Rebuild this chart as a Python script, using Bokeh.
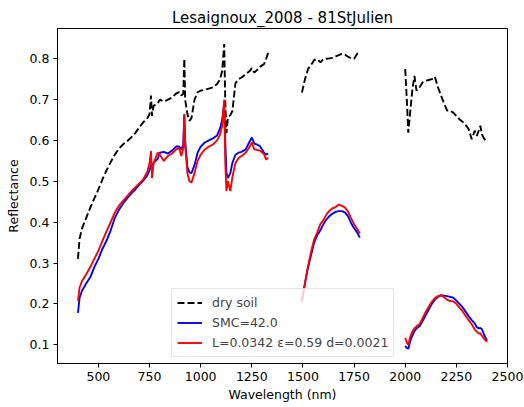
import numpy as np
from bokeh.plotting import figure
from bokeh.models import Range1d, FixedTicker
from bokeh.embed import file_html
from bokeh.resources import INLINE

# ---- data ----
wl_a = [400, 408, 420, 440, 460, 480, 500, 520, 540, 560,
        580, 600, 620, 640, 660, 680, 700, 720, 740, 750,
        757, 762, 770, 790, 800, 820, 840, 860, 880, 895,
        905, 915, 920, 924, 935, 945, 955, 970, 985, 1000,
        1020, 1040, 1060, 1080, 1095, 1105, 1115, 1120, 1126, 1133,
        1145, 1155, 1170, 1185, 1200, 1220, 1240, 1250, 1262, 1275,
        1290, 1310, 1320, 1330]
dry_a = [0.31, 0.36, 0.385, 0.41, 0.435, 0.458, 0.48, 0.505, 0.527, 0.547,
         0.565, 0.58, 0.59, 0.598, 0.607, 0.618, 0.632, 0.645, 0.655, 0.665,
         0.71, 0.66, 0.685, 0.69, 0.70, 0.695, 0.70, 0.705, 0.715, 0.718,
         0.71, 0.715, 0.80, 0.70, 0.665, 0.648, 0.655, 0.70, 0.718, 0.722,
         0.724, 0.727, 0.73, 0.738, 0.75, 0.77, 0.836, 0.70, 0.618, 0.656,
         0.662, 0.672, 0.74, 0.75, 0.754, 0.762, 0.77, 0.777, 0.766, 0.772,
         0.78, 0.787, 0.80, 0.815]
smc_a = [0.178, 0.215, 0.232, 0.25, 0.265, 0.29, 0.31, 0.335, 0.355, 0.38,
         0.41, 0.43, 0.445, 0.458, 0.47, 0.48, 0.492, 0.502, 0.515, 0.528,
         0.54, 0.538, 0.545, 0.555, 0.57, 0.572, 0.568, 0.575, 0.585, 0.585,
         0.578, 0.59, 0.664, 0.60, 0.535, 0.522, 0.52, 0.54, 0.57, 0.585,
         0.595, 0.60, 0.605, 0.612, 0.63, 0.65, 0.69, 0.60, 0.52, 0.508,
         0.52, 0.545, 0.565, 0.57, 0.572, 0.578, 0.598, 0.607, 0.592, 0.59,
         0.586, 0.57, 0.565, 0.568]
mod_a = [0.207, 0.24, 0.256, 0.272, 0.29, 0.31, 0.33, 0.355, 0.378, 0.40,
         0.423, 0.44, 0.452, 0.463, 0.475, 0.485, 0.495, 0.505, 0.525, 0.545,
         0.574, 0.508, 0.545, 0.57, 0.565, 0.55, 0.562, 0.568, 0.578, 0.582,
         0.562, 0.58, 0.664, 0.59, 0.52, 0.50, 0.497, 0.52, 0.55, 0.565,
         0.578, 0.585, 0.59, 0.60, 0.615, 0.635, 0.70, 0.55, 0.476, 0.50,
         0.476, 0.51, 0.545, 0.557, 0.562, 0.57, 0.585, 0.595, 0.578, 0.577,
         0.575, 0.566, 0.553, 0.558]

wl_b = [1495, 1510, 1525, 1540, 1555, 1570, 1585, 1600, 1615, 1630,
        1645, 1660, 1675, 1690, 1705, 1720, 1735, 1750, 1765, 1778]
dry_b = [0.717, 0.75, 0.775, 0.785, 0.797, 0.799, 0.791, 0.799, 0.80, 0.801,
         0.802, 0.806, 0.809, 0.812, 0.81, 0.805, 0.801, 0.80, 0.812, 0.815]
smc_b = [0.21, 0.25, 0.289, 0.32, 0.35, 0.368, 0.38, 0.395, 0.407, 0.415,
         0.421, 0.425, 0.427, 0.427, 0.424, 0.415, 0.398, 0.385, 0.375, 0.362]
mod_b = [0.205, 0.252, 0.293, 0.328, 0.358, 0.375, 0.395, 0.405, 0.419, 0.428,
         0.434, 0.437, 0.443, 0.44, 0.436, 0.426, 0.41, 0.395, 0.383, 0.372]

wl_c = [2000, 2008, 2015, 2025, 2035, 2045, 2055, 2070, 2085, 2100,
        2115, 2130, 2145, 2160, 2175, 2190, 2205, 2220, 2235, 2250,
        2265, 2280, 2295, 2310, 2325, 2340, 2350, 2360, 2367, 2375,
        2385, 2400]
dry_c = [0.775, 0.697, 0.619, 0.673, 0.725, 0.758, 0.722, 0.73, 0.742, 0.746,
         0.748, 0.75, 0.756, 0.73, 0.71, 0.69, 0.673, 0.673, 0.668, 0.66,
         0.652, 0.646, 0.638, 0.628, 0.603, 0.624, 0.611, 0.625, 0.636, 0.615,
         0.605, 0.595]
smc_c = [0.097, 0.092, 0.09, 0.11, 0.122, 0.133, 0.14, 0.145, 0.158, 0.172,
         0.186, 0.2, 0.21, 0.217, 0.221, 0.22, 0.219, 0.217, 0.215, 0.208,
         0.2, 0.192, 0.181, 0.17, 0.16, 0.152, 0.143, 0.14, 0.141, 0.138,
         0.125, 0.11]
mod_c = [0.117, 0.105, 0.10, 0.12, 0.132, 0.14, 0.145, 0.15, 0.165, 0.18,
         0.193, 0.205, 0.214, 0.219, 0.221, 0.216, 0.21, 0.207, 0.206, 0.2,
         0.191, 0.182, 0.171, 0.16, 0.15, 0.137, 0.132, 0.127, 0.128, 0.122,
         0.115, 0.107]

x_ticks = [500, 750, 1000, 1250, 1500, 1750, 2000, 2250, 2500]
y_ticks = [0.1, 0.2, 0.3, 0.4, 0.5, 0.6, 0.7, 0.8]
y_tick_labels = ["0.1", "0.2", "0.3", "0.4", "0.5", "0.6", "0.7", "0.8"]

labels = ["dry soil", "SMC=42.0", "L=0.0342 \u03b5=0.59 d=0.0021"]
title_text = "Lesaignoux_2008 - 81StJulien"


def joined(a, b, c):
    gap = [np.nan]
    return np.array(list(a) + gap + list(b) + gap + list(c), dtype=float)


wl = joined(wl_a, wl_b, wl_c)
dry = joined(dry_a, dry_b, dry_c)
smc = joined(smc_a, smc_b, smc_c)
mod = joined(mod_a, mod_b, mod_c)

FONT = "DejaVu Sans"

p = figure(width=524, height=407, output_backend="svg", toolbar_location=None,
           x_range=Range1d(300, 2500), y_range=Range1d(0.054, 0.874),
           title=title_text,
           min_border_left=57, min_border_right=17, min_border_top=28,
           min_border_bottom=44)

p.line(wl, dry, line_color="black", line_width=1.9, line_dash="7 3",
       legend_label=labels[0])
p.line(wl, smc, line_color="#0000ff", line_width=1.9, legend_label=labels[1])
p.line(wl, mod, line_color="#ff0000", line_width=1.9, legend_label=labels[2])

p.xgrid.visible = False
p.ygrid.visible = False
p.outline_line_color = "black"
p.outline_line_width = 1
p.background_fill_color = "white"
p.border_fill_color = "white"

p.title.align = "center"
p.title.text_font = FONT
p.title.text_font_size = "15px"
p.title.text_font_style = "normal"
p.title.text_color = "black"
p.title.standoff = 4

p.xaxis.ticker = FixedTicker(ticks=x_ticks)
p.yaxis.ticker = FixedTicker(ticks=y_ticks)
p.yaxis.major_label_overrides = {t: s for t, s in zip(y_ticks, y_tick_labels)}
p.xaxis.axis_label = "Wavelength (nm)"
p.yaxis.axis_label = "Reflectance"
for ax in (p.xaxis, p.yaxis):
    ax.axis_line_color = "black"
    ax.major_tick_line_color = "black"
    ax.major_tick_out = 4
    ax.major_tick_in = 0
    ax.minor_tick_out = 0
    ax.minor_tick_in = 0
    ax.major_label_text_font = FONT
    ax.major_label_text_font_size = "12.5px"
    ax.major_label_text_color = "black"
    ax.major_label_standoff = 4
    ax.axis_label_text_font = FONT
    ax.axis_label_text_font_size = "12.5px"
    ax.axis_label_text_font_style = "normal"
    ax.axis_label_text_color = "black"
p.xaxis.axis_label_standoff = 3
p.yaxis.axis_label_standoff = 6

lg = p.legend[0]
lg.location = (114, 6)
lg.border_line_color = "#cccccc"
lg.border_line_width = 1
lg.background_fill_alpha = 0.8
lg.label_text_font = FONT
lg.label_text_font_size = "12.5px"
lg.glyph_width = 25
lg.glyph_height = 17
lg.label_height = 17
lg.label_standoff = 10
lg.padding = 5
lg.spacing = 3
lg.margin = 0

open("out.html", "w").write(file_html(p, INLINE))
